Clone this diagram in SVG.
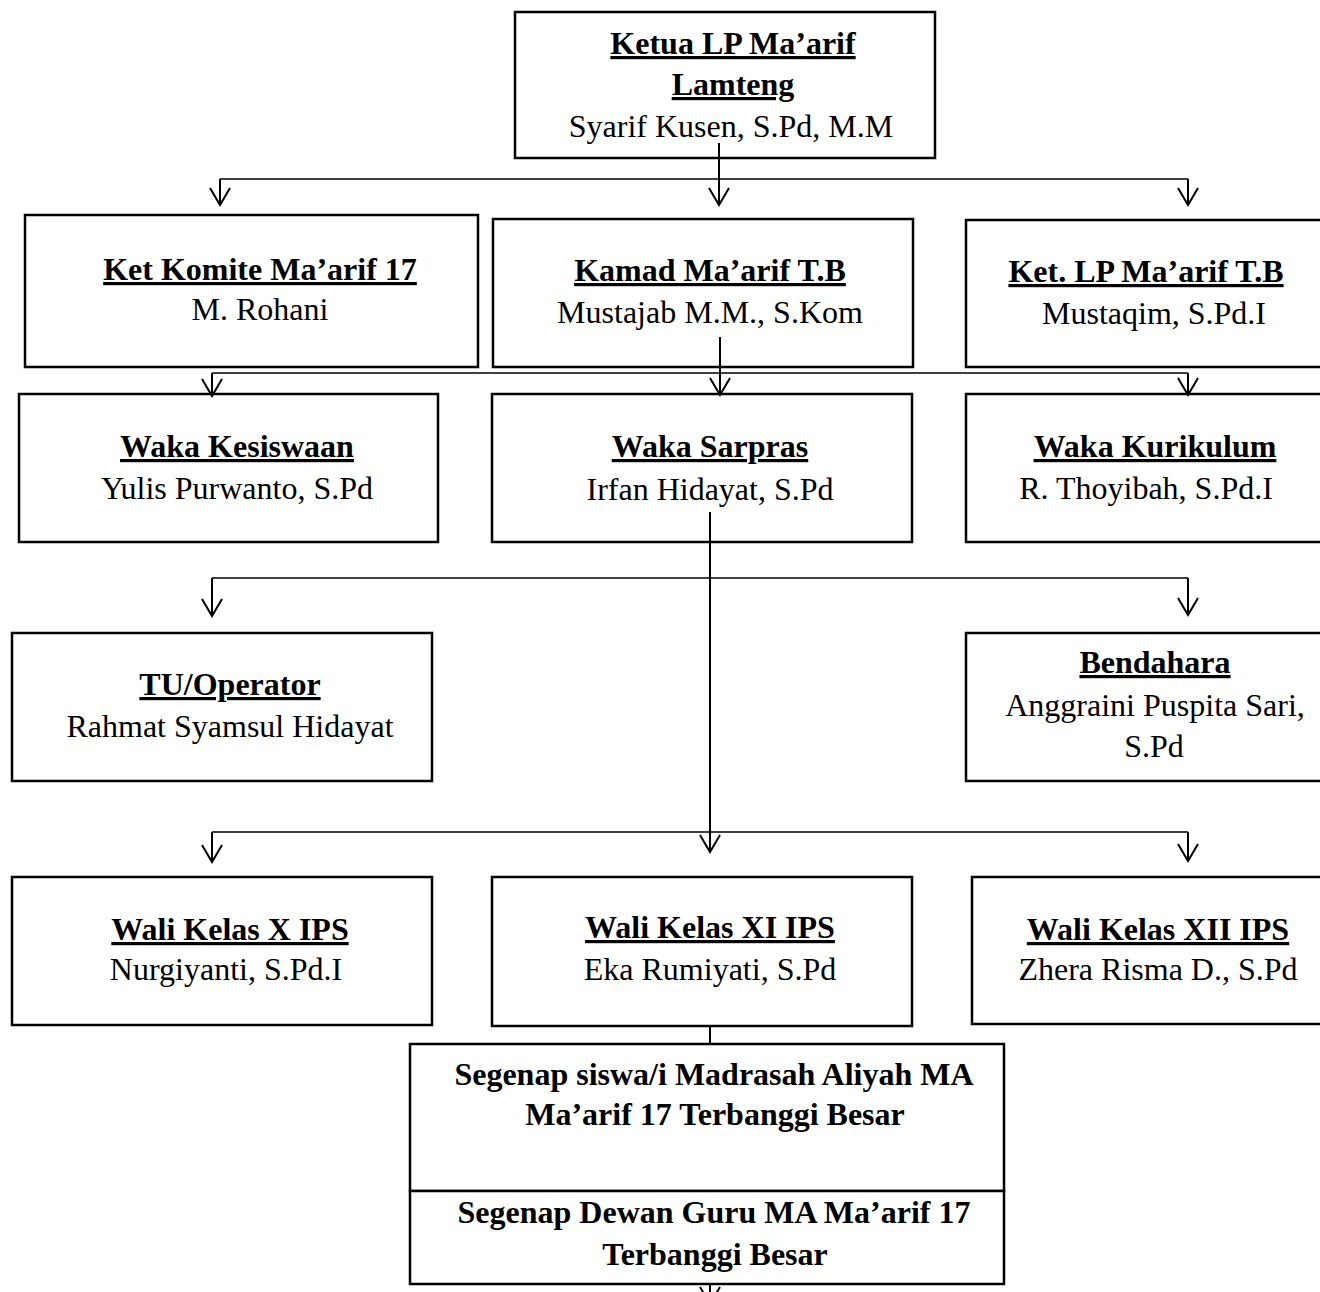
<svg xmlns="http://www.w3.org/2000/svg" width="1320" height="1292" viewBox="0 0 1320 1292">
<style>
.box{fill:#fff;stroke:#000;stroke-width:2.5}
.t{font-family:"Liberation Serif","Times New Roman",serif;font-size:32px;fill:#000;text-anchor:middle}
.b{font-weight:bold;text-decoration:underline;text-decoration-thickness:3px;text-underline-offset:4px}
.bb{font-weight:bold}
.c{fill:none;stroke:#000;stroke-width:1.5}
.cv{fill:none;stroke:#000;stroke-width:2}
</style>
<defs>
<marker id="arr" markerUnits="userSpaceOnUse" markerWidth="40" markerHeight="40" viewBox="-20 -20 40 40" refX="0" refY="0" orient="auto" overflow="visible">
<path d="M-17,-10 L0,0 L-17,10" fill="none" stroke="#000" stroke-width="2"/>
</marker>
</defs>
<rect width="1320" height="1292" fill="#fff"/>

<g id="nodes">
<g id="ketua">
<rect class="box" x="515" y="12" width="420" height="146"/>
<text class="t b" x="733" y="54">Ketua LP Ma’arif</text>
<text class="t b" x="733" y="95">Lamteng</text>
<text class="t" x="731" y="137">Syarif Kusen, S.Pd, M.M</text>
</g>
<g id="komite">
<rect class="box" x="25" y="215" width="453" height="152"/>
<text class="t b" x="260" y="280">Ket Komite Ma’arif 17</text>
<text class="t" x="260" y="320">M. Rohani</text>
</g>
<g id="kamad">
<rect class="box" x="493" y="219" width="420" height="148"/>
<text class="t b" x="710" y="281">Kamad Ma’arif T.B</text>
<text class="t" x="710" y="323">Mustajab M.M., S.Kom</text>
</g>
<g id="ketlp">
<rect class="box" x="966" y="220" width="400" height="147"/>
<text class="t b" x="1146" y="282">Ket. LP Ma’arif T.B</text>
<text class="t" x="1154" y="324">Mustaqim, S.Pd.I</text>
</g>
<g id="kesiswaan">
<rect class="box" x="19" y="394" width="419" height="148"/>
<text class="t b" x="237" y="457">Waka Kesiswaan</text>
<text class="t" x="237" y="499">Yulis Purwanto, S.Pd</text>
</g>
<g id="sarpras">
<rect class="box" x="492" y="394" width="420" height="148"/>
<text class="t b" x="710" y="457">Waka Sarpras</text>
<text class="t" x="710" y="500">Irfan Hidayat, S.Pd</text>
</g>
<g id="kurikulum">
<rect class="box" x="966" y="394" width="400" height="148"/>
<text class="t b" x="1155" y="457">Waka Kurikulum</text>
<text class="t" x="1146" y="499">R. Thoyibah, S.Pd.I</text>
</g>
<g id="tu">
<rect class="box" x="12" y="633" width="420" height="148"/>
<text class="t b" x="230" y="695">TU/Operator</text>
<text class="t" x="230" y="737">Rahmat Syamsul Hidayat</text>
</g>
<g id="bendahara">
<rect class="box" x="966" y="633" width="400" height="148"/>
<text class="t b" x="1155" y="673">Bendahara</text>
<text class="t" x="1155" y="716">Anggraini Puspita Sari,</text>
<text class="t" x="1154" y="757">S.Pd</text>
</g>
<g id="walix">
<rect class="box" x="12" y="877" width="420" height="148"/>
<text class="t b" x="230" y="940">Wali Kelas X IPS</text>
<text class="t" x="226" y="980">Nurgiyanti, S.Pd.I</text>
</g>
<g id="walixi">
<rect class="box" x="492" y="877" width="420" height="149"/>
<text class="t b" x="710" y="938">Wali Kelas XI IPS</text>
<text class="t" x="710" y="980">Eka Rumiyati, S.Pd</text>
</g>
<g id="walixii">
<rect class="box" x="972" y="877" width="400" height="147"/>
<text class="t b" x="1158" y="940">Wali Kelas XII IPS</text>
<text class="t" x="1158" y="980">Zhera Risma D., S.Pd</text>
</g>
<g id="siswa">
<rect class="box" x="410" y="1044" width="594" height="147"/>
<text class="t bb" x="714" y="1085">Segenap siswa/i Madrasah Aliyah MA</text>
<text class="t bb" x="715" y="1125">Ma’arif 17 Terbanggi Besar</text>
</g>
<g id="guru">
<rect class="box" x="410" y="1191" width="594" height="93"/>
<text class="t bb" x="714" y="1223">Segenap Dewan Guru MA Ma’arif 17</text>
<text class="t bb" x="715" y="1265">Terbanggi Besar</text>
</g>
</g>

<g id="connectors">
<path class="c" d="M220,179 H1188"/>
<path class="cv" d="M719,143 V205" marker-end="url(#arr)"/>
<path class="cv" d="M220,179 V205" marker-end="url(#arr)"/>
<path class="cv" d="M1188,179 V205" marker-end="url(#arr)"/>

<path class="c" d="M212,373 H1188"/>
<path class="cv" d="M720,337 V395" marker-end="url(#arr)"/>
<path class="cv" d="M212,373 V396" marker-end="url(#arr)"/>
<path class="cv" d="M1188,373 V395" marker-end="url(#arr)"/>

<path class="c" d="M212,578 H1188"/>
<path class="cv" d="M710,512 V852" marker-end="url(#arr)"/>
<path class="cv" d="M212,578 V616" marker-end="url(#arr)"/>
<path class="cv" d="M1188,578 V615" marker-end="url(#arr)"/>

<path class="c" d="M212,832 H1188"/>
<path class="cv" d="M212,832 V862" marker-end="url(#arr)"/>
<path class="cv" d="M1188,832 V861" marker-end="url(#arr)"/>

<path class="cv" d="M710,1026 V1044"/>
<path class="cv" d="M710,1284 V1304" marker-end="url(#arr)"/>
</g>
</svg>
